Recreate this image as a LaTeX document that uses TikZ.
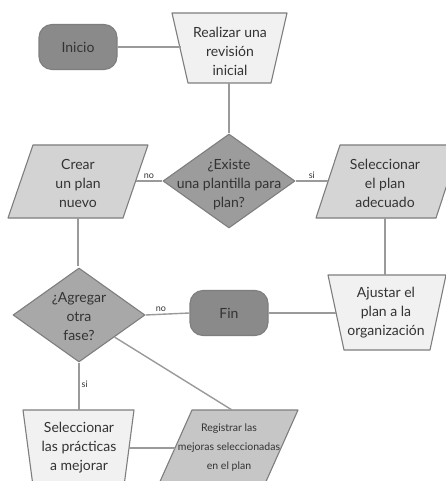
\documentclass[tikz,border=0pt]{standalone}
\usepackage{fontspec}
\setmainfont{Lato}
\usetikzlibrary{shapes.geometric}
\definecolor{linegray}{HTML}{9A9A9A}
\definecolor{bordergray}{HTML}{7E7E7E}
\definecolor{darkfill}{HTML}{8A8A8A}
\definecolor{dfillA}{HTML}{9C9C9C}
\definecolor{dfillB}{HTML}{A8A8A8}
\definecolor{midfill}{HTML}{D3D3D3}
\definecolor{regfill}{HTML}{C6C6C6}
\definecolor{lightfill}{HTML}{F1F1F1}
\definecolor{txt}{HTML}{333333}
\begin{document}
\begin{tikzpicture}[x=1pt,y=-1pt,
  conn/.style={draw=linegray,line width=1.4pt},
  shp/.style={draw=bordergray,line width=1.1pt,line join=round},
  term/.style={shp,rectangle,rounded corners=13pt,fill=darkfill,minimum width=78pt,minimum height=45pt,inner sep=0pt,text=txt,font=\fontsize{14}{19}\selectfont},
  dec/.style={shp,diamond,minimum width=132pt,minimum height=94pt,inner sep=0pt},
  txtbox/.style={align=center,inner sep=0pt,text=txt,font=\fontsize{14}{19}\selectfont},
  small/.style={align=center,inner sep=0pt,text=txt,font=\fontsize{10.5}{19}\selectfont},
  lbl/.style={inner sep=2pt,text=txt,font=\fontsize{9}{10}\selectfont}]
\useasboundingbox[fill=white] (0,0) rectangle (446,481);

% shapes
\node[term] (inicio) at (78,47) {Inicio};
\draw[shp,fill=lightfill] (172,13) -- (287,13) -- (271,83) -- (188,83) -- cycle;
\node[txtbox] (realizar) at (230,51) {Realizar una\\revisión\\inicial};
\node[dec,fill=dfillA] (d1) at (229,181) {};
\node[txtbox] (d1t) at (229,185) {¿Existe\\una plantilla para\\plan?};
\draw[shp,fill=midfill] (33,145) -- (148,145) -- (123,218) -- (8,218) -- cycle;
\node[txtbox] (crear) at (78,183) {Crear\\un plan\\nuevo};
\draw[shp,fill=midfill!95!white] (340,145) -- (460,145) -- (436,218) -- (316,218) -- cycle;
\node[txtbox] (selplan) at (385,183) {Seleccionar\\el plan\\adecuado};
\draw[shp,fill=lightfill] (328,275) -- (446,275) -- (430,350) -- (344,350) -- cycle;
\node[txtbox] (ajustar) at (386,313) {Ajustar el\\plan a la\\organización};
\node[term] (fin) at (229,313) {Fin};
\node[dec,fill=dfillB] (d2) at (79,315) {};
\node[txtbox] (d2t) at (79,317) {¿Agregar\\otra\\fase?};
\draw[shp,fill=lightfill] (23,410) -- (134,410) -- (124,486) -- (33,486) -- cycle;
\node[txtbox] (selprac) at (79,448) {Seleccionar\\las prácticas\\a mejorar};
\draw[shp,fill=regfill] (192,410) -- (298,410) -- (264,486) -- (158,486) -- cycle;
\node[small] (registrar) at (229,448) {Registrar las\\mejoras seleccionadas\\en el plan};

% connector end points on shape borders
\coordinate (realL) at (180.5,47);
\coordinate (realB) at (229,83);
\coordinate (crearR) at (135.5,181);
\coordinate (crearB) at (78,218);
\coordinate (selL) at (328,181);
\coordinate (selB) at (385,218);
\coordinate (ajT) at (385,275);
\coordinate (ajL) at (336,313);
\coordinate (spT) at (79,410);
\coordinate (spR) at (129,448);
\coordinate (regL) at (175,448);
\coordinate (regT) at (232,410);

% connectors
\draw[conn] (inicio.east) -- (realL);
\draw[conn] (realB) -- (d1.north);
\draw[conn] (d1.west) -- node[lbl,above] {no} (crearR);
\draw[conn] (d1.east) -- node[lbl,above] {si} (selL);
\draw[conn] (crearB) -- (78,266);
\draw[conn] (selB) -- (ajT);
\draw[conn] (ajL) -- (fin.east);
\draw[conn] (fin.west) -- node[lbl,above,pos=0.65] {no} (d2.east);
\draw[conn] (d2.south) -- node[lbl,right,pos=0.45] {si} (spT);
\draw[conn] (d2) -- (regT);
\draw[conn] (spR) -- (regL);
\end{tikzpicture}
\end{document}
